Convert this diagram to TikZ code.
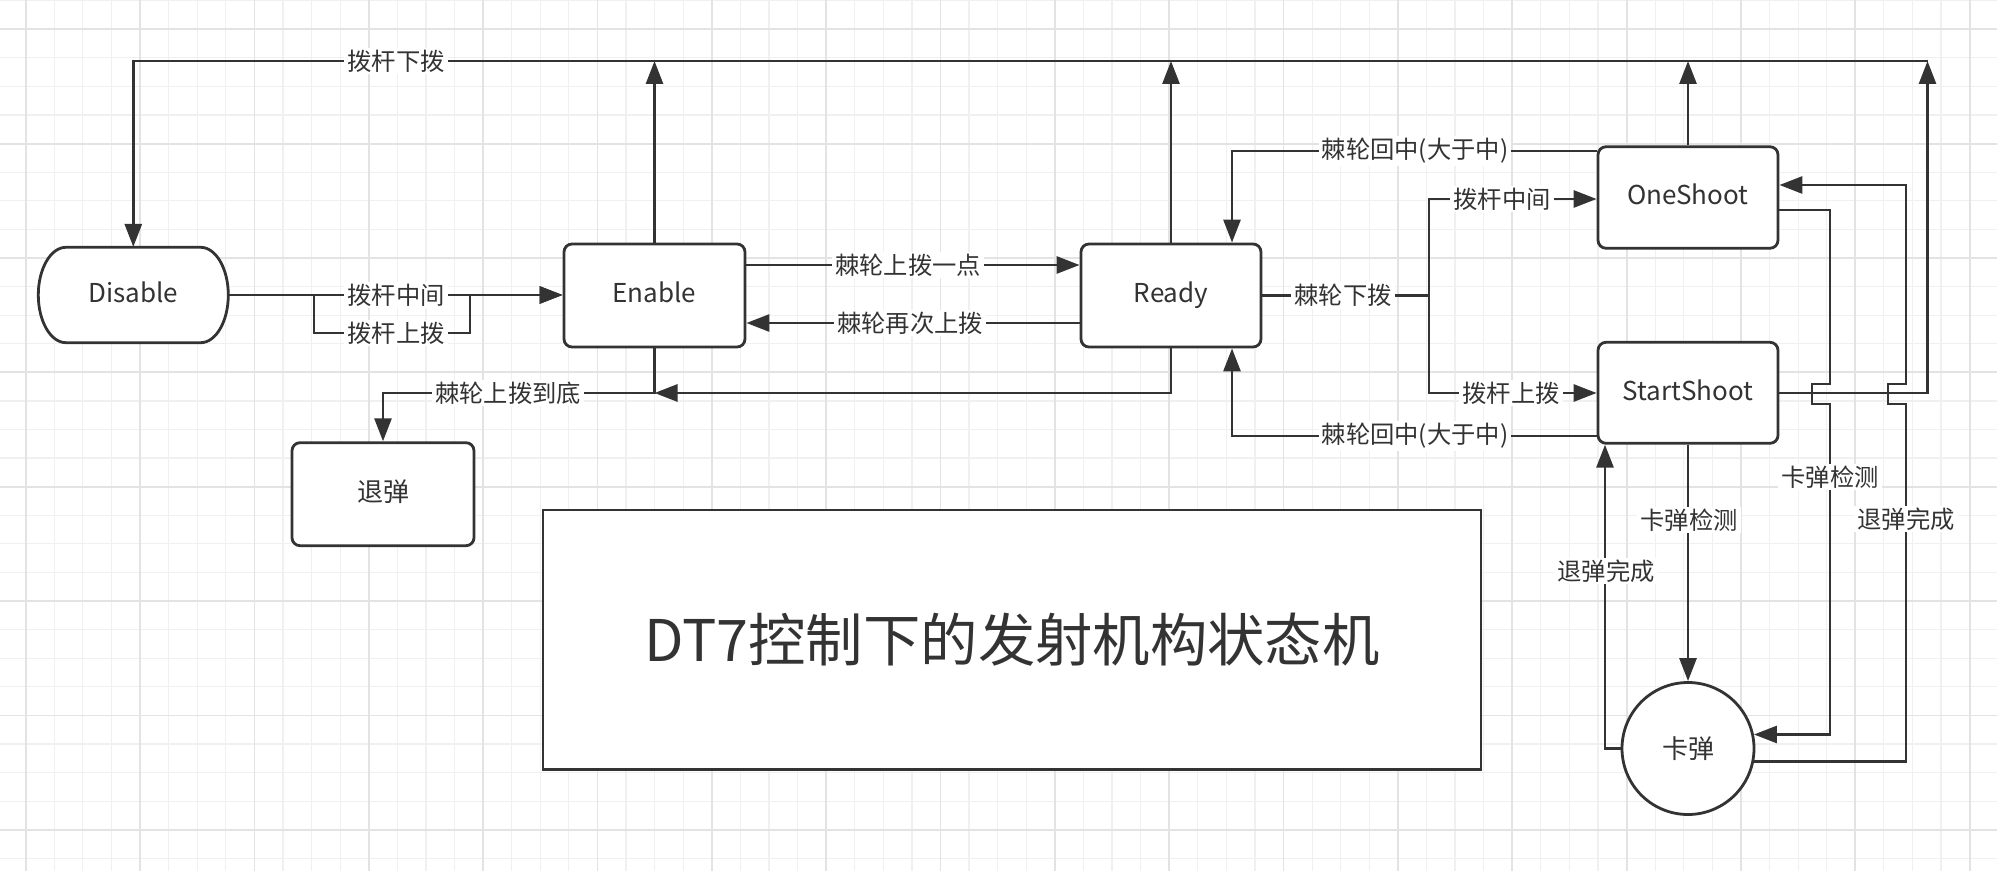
\documentclass[tikz,border=0pt]{standalone}
\usepackage{fontspec}
\setmainfont{Noto Sans CJK SC}
\usetikzlibrary{arrows.meta}
\definecolor{lc}{HTML}{333333}
\newcommand\mylblfont{\fontsize{12.15pt}{14pt}\selectfont}
\newcommand\mynodefont{\fontsize{13pt}{15pt}\selectfont}
\newcommand\mytitlefont{\fontsize{28.7pt}{32pt}\selectfont}
\tikzset{
  ln/.style={line width=1.4pt, draw=lc},
  arr/.style={ln, -{Triangle[length=11.5pt,width=8.5pt]}},
  lbl/.style={fill=white, inner xsep=1.5pt, inner ysep=1pt, text=lc, font=\mylblfont},
  box/.style={draw=lc, line width=1.4pt, rounded corners=4pt, fill=white, text=lc, font=\mynodefont, text height=0.85em, text depth=0.1em},
  minorg/.style={line width=0.6pt, draw=black!6},
  majorg/.style={line width=0.9pt, draw=black!11},
}
\begin{document}
\begin{tikzpicture}[x=0.5pt, y=-0.5pt]
\useasboundingbox (0,0) rectangle (1997,871);
\fill[white] (0,0) rectangle (1997,871);
% grid
\begin{scope}
\clip (0,0) rectangle (1997,871);
\foreach \i in {0,...,71} \draw[minorg] ({-2.9+28.5875*\i},0) -- ({-2.9+28.5875*\i},871);
\foreach \i in {0,...,31} \draw[minorg] (0,{0.7+28.5875*\i}) -- (1997,{0.7+28.5875*\i});
\foreach \i in {0,...,17} \draw[majorg] ({25.7+114.35*\i},0) -- ({25.7+114.35*\i},871);
\foreach \i in {0,...,7} \draw[majorg] (0,{29.3+114.35*\i}) -- (1997,{29.3+114.35*\i});
\end{scope}

% Disable shape
\draw[ln, fill=white] (66,247.3) -- (200.6,247.3) .. controls (215.9,247.3) and (228.3,268.7) .. (228.3,295)
  .. controls (228.3,321.3) and (215.9,342.7) .. (200.6,342.7) -- (66,342.7)
  .. controls (50.7,342.7) and (38.3,321.3) .. (38.3,295)
  .. controls (38.3,268.7) and (50.7,247.3) .. (66,247.3) -- cycle;
\node[minimum width=95pt, minimum height=47.7pt, inner sep=0pt, font=\mynodefont, text=lc, text height=0.85em, text depth=0.1em] (Disable) at (133.3,295) {Disable};

% nodes
\node[box, minimum width=90.5pt, minimum height=51.5pt] (Enable) at (654.5,295.5) {Enable};
\node[box, minimum width=90pt, minimum height=51.5pt] (Ready) at (1171,295.5) {Ready};
\node[box, minimum width=90pt, minimum height=50.75pt] (OneShoot) at (1688,197.5) {OneShoot};
\node[box, minimum width=90pt, minimum height=50.5pt] (StartShoot) at (1688,392.8) {StartShoot};
\node[box, minimum width=91pt, minimum height=51.5pt] (Tuidan) at (383,494.2) {退弹};
\node[draw=lc, line width=1.4pt, fill=white, circle, minimum size=66pt, inner sep=0pt, text=lc, font=\mynodefont] (Kadan) at (1688,748.5) {卡弹};
\node[draw=lc, line width=1.4pt, fill=white, minimum width=469pt, minimum height=129.6pt, text=lc, font=\mytitlefont] (Title) at (1012,639.6) {DT7控制下的发射机构状态机};

% top bus
\coordinate (topR) at (1927.5,61);
\draw[arr] (topR) -- (Disable.north |- topR) -- (Disable.north);
\draw[arr] (Enable.north) -- (Enable.north |- topR);
\draw[arr] (Ready.north) -- (Ready.north |- topR);
\draw[arr] (OneShoot.north) -- (OneShoot.north |- topR);
\draw[arr] (StartShoot.east |- 0,393) -- (topR |- 0,393) -- (topR);

% Disable -> Enable
\draw[arr] (Disable.east) -- (Disable.east -| Enable.west);
\draw[arr] (Disable.east) -| (314,333) -- (470,333) |- (Disable.east -| Enable.west);

% Enable <-> Ready
\draw[arr] (Enable.east |- 0,265) -- (Ready.west |- 0,265);
\draw[arr] (Ready.west |- 0,323) -- (Enable.east |- 0,323);

% to Tuidan
\coordinate (j1) at (Enable.south |- 0,393);
\draw[arr] (Enable.south) -- (j1) -| (Tuidan.north);
\draw[arr] (Ready.south) |- (j1);

% Ready -> shoot modes
\coordinate (jR) at (1429,295.5);
\draw[ln] (Ready.east) -- (jR);
\draw[arr] (jR) |- (OneShoot.west |- 0,199);
\draw[arr] (jR) |- (StartShoot.west |- 0,393);

% back to Ready
\draw[arr] (OneShoot.west |- 0,151) -| (Ready.north -| 1232,0);
\draw[arr] (StartShoot.west |- 0,436) -| (Ready.south -| 1232,0);

% StartShoot <-> Kadan
\draw[arr] (StartShoot.south) -- (Kadan.north);
\draw[arr] (Kadan.west) -- (Kadan.west -| 1605,0) -- (StartShoot.south -| 1605,0);

% OneShoot <-> Kadan
\draw[arr] (OneShoot.east |- 0,210) -- (1830,210) -- (1830,384) -- (1812,384) -- (1812,404) -- (1830,404) -- (Kadan.12 -| 1830,0) -- (Kadan.12);
\draw[arr] (Kadan.-11) -- (Kadan.-11 -| 1906,0) -- (1906,404) -- (1888,404) -- (1888,384) -- (1906,384) -- (1906,185) -- (OneShoot.east |- 0,185);

% labels
\node[lbl] (l1) at (396,61) {拨杆下拨};
\node[lbl] (l2) at (396,295) {拨杆中间};
\node[lbl] (l3) at (396,333) {拨杆上拨};
\node[lbl] (l4) at (908,265) {棘轮上拨一点};
\node[lbl] (l5) at (910,323) {棘轮再次上拨};
\node[lbl] (l6) at (508,393) {棘轮上拨到底};
\node[lbl] (l7) at (1343,295.5) {棘轮下拨};
\node[lbl] (l8) at (1502,199) {拨杆中间};
\node[lbl] (l9) at (1511,393) {拨杆上拨};
\node[lbl] (l10) at (1415,151) {棘轮回中(大于中)};
\node[lbl] (l11) at (1415,436) {棘轮回中(大于中)};
\node[lbl] (l12) at (1689,520) {卡弹检测};
\node[lbl] (l13) at (1606,571) {退弹完成};
\node[lbl] (l14) at (1830,477) {卡弹检测};
\node[lbl] (l15) at (1906,519) {退弹完成};
\end{tikzpicture}
\end{document}
